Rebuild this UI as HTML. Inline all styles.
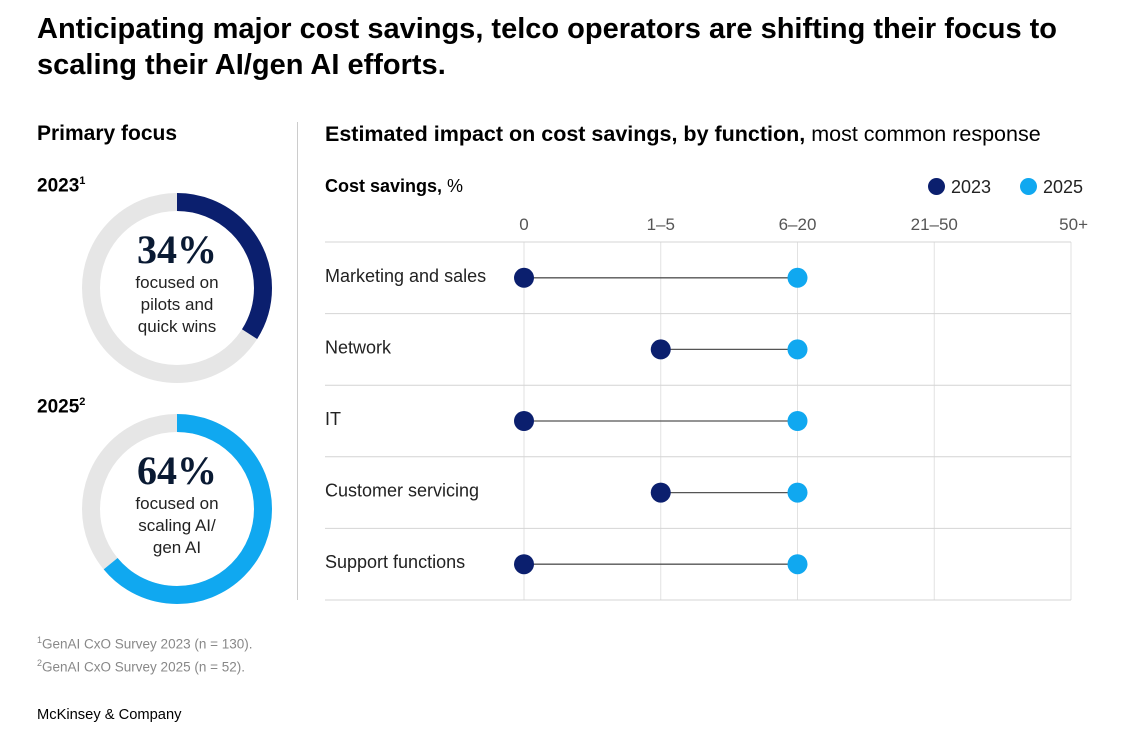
<!DOCTYPE html>
<html><head><meta charset="utf-8"><style>
body{margin:0;background:#fff;font-family:"Liberation Sans",sans-serif;color:#000}
.t{position:absolute;white-space:nowrap}
</style></head><body>
<div style="position:relative;width:1126px;height:733px;overflow:hidden">
<div class="t" style="left:37px;top:11px;font-size:29px;font-weight:bold;line-height:36px">Anticipating major cost savings, telco operators are shifting their focus to<br>scaling their AI/gen AI efforts.</div>
<div class="t" style="left:37px;top:122px;font-size:21px;font-weight:bold">Primary focus</div>
<div class="t" style="left:325px;top:122px;font-size:21.5px"><b>Estimated impact on cost savings, by function,</b> most common response</div>
<div style="position:absolute;left:297px;top:122px;width:1px;height:478px;background:#ccc"></div>
<div class="t" style="left:37px;top:175px;font-size:19px;font-weight:bold">2023<sup style="font-size:11px">1</sup></div>
<div class="t" style="left:37px;top:396px;font-size:19px;font-weight:bold">2025<sup style="font-size:11px">2</sup></div>
<svg width="1126" height="733" style="position:absolute;left:0;top:0">
<g id="donuts"></g><g id="dumb"></g>
</svg>
<div class="t" style="left:107px;top:228px;width:140px;text-align:center;font-size:17px;line-height:22px;color:#222"><div style="font-family:'Liberation Serif',serif;font-weight:bold;font-size:40px;line-height:44px;color:#0a1a33">34%</div>focused on<br>pilots and<br>quick wins</div>
<div class="t" style="left:107px;top:449px;width:140px;text-align:center;font-size:17px;line-height:22px;color:#222"><div style="font-family:'Liberation Serif',serif;font-weight:bold;font-size:40px;line-height:44px;color:#0a1a33">64%</div>focused on<br>scaling AI/<br>gen AI</div>
<div class="t" style="left:325px;top:176px;font-size:18px"><b>Cost savings,</b> %</div>
<div class="t" style="left:928px;top:177px;font-size:18px;color:#222"><span style="display:inline-block;width:17px;height:17px;border-radius:50%;background:#0b1f6e;vertical-align:-2px;margin-right:6px"></span>2023</div>
<div class="t" style="left:1020px;top:177px;font-size:18px;color:#222"><span style="display:inline-block;width:17px;height:17px;border-radius:50%;background:#10a8f0;vertical-align:-2px;margin-right:6px"></span>2025</div>
<div class="t" style="left:37px;top:631px;font-size:13.5px;line-height:19px;color:#888"><sup style="font-size:9px">1</sup>GenAI CxO Survey 2023 (n = 130).<br><sup style="font-size:9px">2</sup>GenAI CxO Survey 2025 (n = 52).</div>
<div class="t" style="left:37px;top:707px;font-size:14.7px">McKinsey &amp; Company</div>
</div>
<script>
const ticks=["0","1–5","6–20","21–50","50+"];
const categories=["Marketing and sales","Network","IT","Customer servicing","Support functions"];
const v2023=[0,1,0,1,0];
const v2025=[2,2,2,2,2];
const donutValues=[34,64];
const NS="http://www.w3.org/2000/svg";
function mk(t,a,p){const e=document.createElementNS(NS,t);for(const k in a)e.setAttribute(k,a[k]);p.appendChild(e);return e;}
const x=i=>524+i*136.75;
const rowTop=242,rowH=71.6;
const y=i=>rowTop+rowH*(i+0.5);
const g=document.getElementById('dumb');
ticks.forEach((t,i)=>{
 if(i<4){const l=mk('line',{x1:x(i),x2:x(i),y1:rowTop,y2:rowTop+rowH*5,stroke:'#e2e2e2','stroke-width':1},g);
 
 }
 const tx=mk('text',{x:i==4?1088:x(i),y:230,'text-anchor':i==4?'end':'middle','font-size':17,fill:'#555','font-family':'Liberation Sans'},g);
 tx.textContent=t;
 
 
});
mk('line',{x1:1071,x2:1071,y1:rowTop,y2:rowTop+rowH*5,stroke:'#e2e2e2'},g);
for(let r=0;r<=5;r++){const l=mk('line',{x1:325,x2:1071,y1:rowTop+rowH*r,y2:rowTop+rowH*r,stroke:'#d4d4d4'},g);
 
 }
categories.forEach((c,i)=>{
 const tx=mk('text',{x:325,y:y(i)+4,'font-size':18,fill:'#222','font-family':'Liberation Sans'},g);
 tx.textContent=c;
 
 
 const l=mk('line',{x1:x(v2023[i]),x2:x(v2025[i]),y1:y(i),y2:y(i),stroke:'#555','stroke-width':1.3},g);
 
 
 const a=mk('circle',{cx:x(v2023[i]),cy:y(i),r:10,fill:'#0b1f6e'},g);
 
 
 const b=mk('circle',{cx:x(v2025[i]),cy:y(i),r:10,fill:'#10a8f0'},g);
 
 
});
const dg=document.getElementById('donuts');
const cols=['#0b1f6e','#10a8f0'];
donutValues.forEach((v,i)=>{
 const cx=177,cy=288+i*221,r=86,C=2*Math.PI*r;
 const bg=mk('circle',{cx,cy,r,fill:'none',stroke:'#e6e6e6','stroke-width':18},dg);
 
 
 const arc=mk('circle',{cx,cy,r,fill:'none',stroke:cols[i],'stroke-width':18,'stroke-dasharray':(C*v/100)+' '+C,transform:`rotate(-90 ${cx} ${cy})`},dg);
 
 
});
</script>
</body></html>
